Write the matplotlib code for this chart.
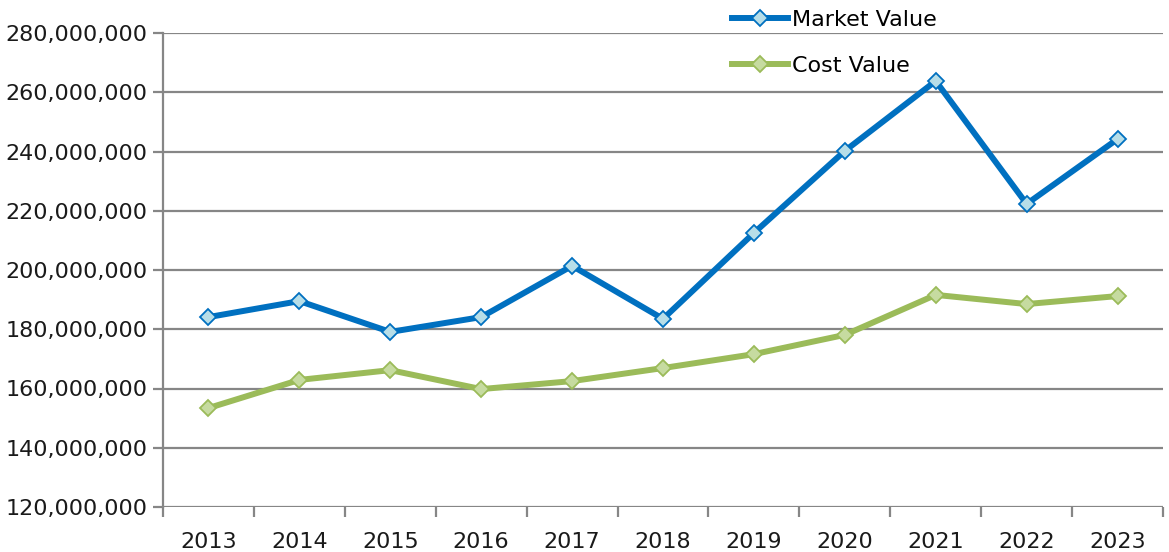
import matplotlib
matplotlib.use("Agg")
import matplotlib.pyplot as plt
from matplotlib.ticker import FuncFormatter, FixedLocator

years = ["2013", "2014", "2015", "2016", "2017", "2018", "2019", "2020", "2021", "2022", "2023"]
market_value = [184.1e6, 189.5e6, 179.1e6, 184.1e6, 201.4e6, 183.5e6, 212.5e6, 240.2e6, 263.8e6, 222.3e6, 244.2e6]
cost_value = [153.4e6, 162.9e6, 166.2e6, 159.8e6, 162.5e6, 166.9e6, 171.6e6, 178.1e6, 191.6e6, 188.5e6, 191.2e6]

plt.rcParams['font.family'] = ['DejaVu Sans']

fig = plt.figure(figsize=(11.69, 5.52), dpi=100)
ax = fig.add_axes([163 / 1169, 1 - 507 / 552, 1000 / 1169, 474 / 552])

x = list(range(len(years)))
ax.plot(x, market_value, color="#0070C0", lw=4.3, marker="D", ms=8,
        mfc="#B7DEE8", mec="#0070C0", mew=1.3, label="Market Value", zorder=3)
ax.plot(x, cost_value, color="#9BBB59", lw=4.3, marker="D", ms=8,
        mfc="#C6DBA0", mec="#9BBB59", mew=1.3, label="Cost Value", zorder=3)

ax.set_ylim(120e6, 280e6)
ax.set_xlim(-0.5, len(years) - 0.5)
ax.set_yticks([120e6 + 20e6 * i for i in range(9)])
ax.yaxis.set_major_formatter(FuncFormatter(lambda v, p: f"{int(v):,}"))
ax.set_xticks(x)
ax.set_xticklabels(years)
ax.xaxis.set_minor_locator(FixedLocator([i - 0.5 for i in range(len(years) + 1)]))

ax.grid(axis="y", color="#868686", lw=1.6)
ax.set_axisbelow(True)
for s in ["top", "right", "bottom"]:
    ax.spines[s].set_visible(False)
ax.spines["left"].set_color("#868686")
ax.spines["left"].set_linewidth(1.6)

ax.tick_params(axis="y", length=7, width=1.6, color="#868686", labelsize=16, pad=4, labelcolor="#1a1a1a")
ax.tick_params(axis="x", which="major", length=0, labelsize=16, pad=18, labelcolor="#1a1a1a")
ax.tick_params(axis="x", which="minor", length=7, width=1.6, color="#868686")

fig.legend(loc="upper left", bbox_to_anchor=(712 / 1169, 1.019), frameon=False,
           fontsize=16, labelspacing=1.2, handlelength=2.5, handletextpad=0.2)

fig.savefig("out.png", dpi=100)
